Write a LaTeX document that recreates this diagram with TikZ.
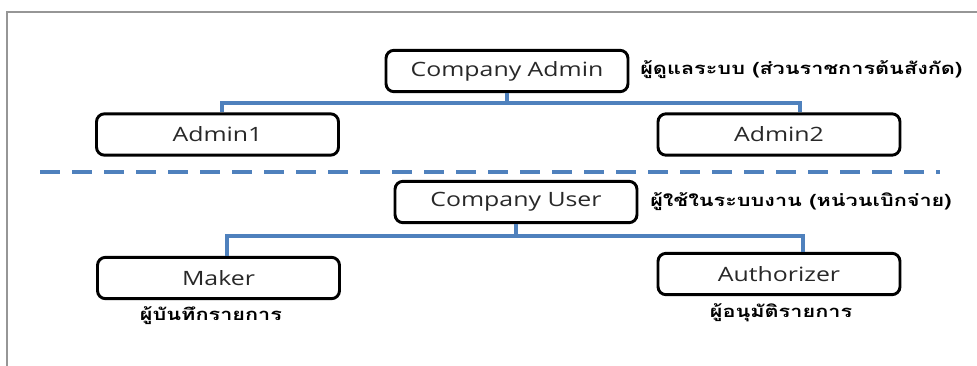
\documentclass[tikz,border=0pt]{standalone}
\usepackage{fontspec}
\setmainfont{Open Sans}[FakeStretch=1.26]
\newfontfamily\thaifont{Loma}[Script=Thai, FakeStretch=1.3]
\usetikzlibrary{calc}

\definecolor{linkblue}{RGB}{79,129,189}
\definecolor{frame}{RGB}{150,150,150}
\definecolor{ink}{RGB}{40,40,40}

\tikzset{
  rolebox/.style={draw=black, line width=2.2pt, rounded corners=6pt,
    minimum width=181.5pt, minimum height=31pt, inner sep=0pt,
    text=ink, font=\fontsize{14.8}{17}\selectfont},
  conn/.style={draw=linkblue, line width=2.4pt},
  divider/.style={draw=linkblue, line width=3pt, dash pattern=on 15pt off 9pt},
  thlabel/.style={inner sep=0pt, text=black, font=\thaifont\bfseries\fontsize{12.5}{14}\selectfont},
}

\begin{document}
\begin{tikzpicture}[x=0.75pt, y=-0.75pt]
\useasboundingbox (0,0) rectangle (977,365);

% page frame
\draw[frame, line width=1.2pt] (7,366) -- (7,12) -- (978,12);

% administrators
\node[rolebox] (ca) at (507,71) {Company Admin};
\node[rolebox] (a1) at (217.5,134.5) {Admin1};
\node[rolebox] (a2) at (779,134.5) {Admin2};
\node[thlabel, anchor=west] (tca) at (640,70) {ผู้ดูแลระบบ (ส่วนราชการต้นสังกัด)};

\coordinate (busAL) at (222,103);
\coordinate (busAR) at (800,103);
\draw[conn] (ca.south) -- (ca.south |- busAL);
\draw[conn] (busAL |- a1.north) -- (busAL) -- (busAR) -- (busAR |- a2.north);

% divider between the two groups
\coordinate (divL) at (40,172);
\coordinate (divR) at (940,172);
\draw[divider] (divL) -- (divR);

% users
\node[rolebox] (cu) at (516,202) {Company User};
\node[rolebox] (mk) at (218.5,278) {Maker};
\node[rolebox] (au) at (779,274) {Authorizer};
\node[thlabel, anchor=west] (tcu) at (650,202) {ผู้ใช้ในระบบงาน (หน่วนเบิกจ่าย)};
\node[thlabel] (tmk) at (211,316) {ผู้บันทึกรายการ};
\node[thlabel] (tau) at (781,313) {ผู้อนุมัติรายการ};

\coordinate (busBL) at (227,236);
\coordinate (busBR) at (803,236);
\draw[conn] (cu.south) -- (cu.south |- busBL);
\draw[conn] (busBL |- mk.north) -- (busBL) -- (busBR) -- (busBR |- au.north);
\end{tikzpicture}
\end{document}
